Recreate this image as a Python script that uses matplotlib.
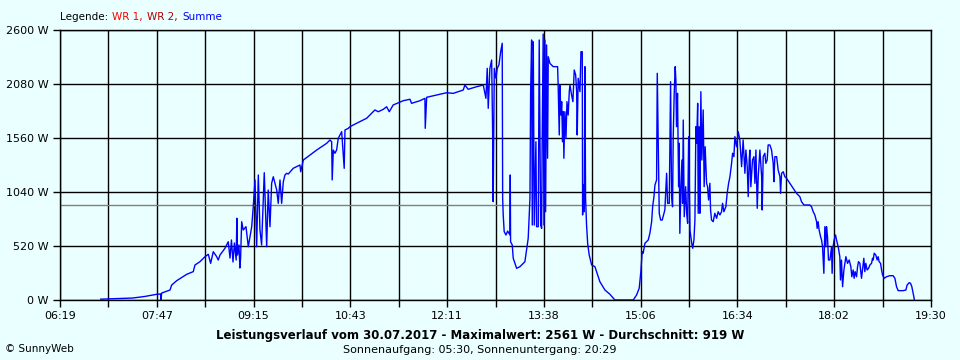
import matplotlib
matplotlib.use("Agg")
import matplotlib.pyplot as plt
import numpy as np

# time of day in minutes after midnight, power of "Summe" in W
minutes = [
    416, 433.5, 445, 456, 466.8, 470.3, 470.7, 471.3, 478.9, 480.4, 485, 494, 500, 501.6,
    506.1, 510.7, 513.7, 515.8, 518.2, 521.3, 522.7, 524.3, 528.8, 531.8, 533.4, 534.7,
    536.1, 537.4, 539, 539.6, 540.2, 541.5, 542.4, 543, 544, 545.4, 547.9, 550, 553.1,
    554.5, 556.1, 557.6, 559.1, 560.6, 562.1, 564.5, 566.7, 568.1, 569.7, 571.2, 572.7,
    574.2, 575.8, 577.2, 578.8, 580.3, 581.8, 583.3, 584.8, 586.3, 590.8, 596.9, 597.6,
    600, 606, 612.1, 621.2, 624.2, 625.7, 626.2, 627.2, 628.7, 630.2, 631.7, 634.8, 637.1,
    637.8, 640.8, 642.3, 648.4, 657.5, 665, 668, 672.6, 675.6, 678, 681.6, 690.7, 696.8,
    698.3, 705.9, 710.4, 710.7, 712, 721, 730.1, 736.1, 745.2, 746.7, 749.7, 757.4, 763.4,
    765.8, 767, 767.9, 769.4, 771, 771.9, 772.4, 773.4, 774.9, 776.1, 777.6, 779.2, 780.6,
    781, 781.5, 782.4, 784, 785.5, 787.6, 787.9, 788.2, 789.7, 790.6, 793.7, 796.7, 801.2,
    804.2, 805.8, 806.4, 807.3, 807.9, 808.8, 809.7, 811.2, 811.8, 813.3, 814.2, 815.5,
    816.4, 816.9, 817.8, 818.5, 819.4, 820, 820.9, 821.8, 822.4, 823.9, 826.9, 830.9,
    831.4, 832.4, 833, 833.9, 834.6, 835.4, 836, 836.6, 837.5, 838.5, 839.4, 840.5, 841.5,
    842.1, 843.6, 844.8, 846, 847.3, 848.2, 848.7, 849.6, 851.2, 852.1, 853.3, 853.6,
    854.5, 855.1, 855.7, 856.3, 857.2, 858.2, 859.6, 861.8, 864.8, 866.3, 869.3, 873.9,
    878.4, 882.9, 899.6, 902.6, 905, 906.5, 907.7, 908.6, 910.2, 913.2, 914.7, 916.3,
    917.2, 918.4, 919.3, 920.8, 921.4, 922, 923.2, 924.5, 925.9, 928.3, 929.9, 930.8,
    932.3, 933.5, 934.4, 935.3, 935.9, 936.8, 937.7, 938.3, 938.9, 939.8, 940.8, 941.3,
    941.9, 942.9, 943.8, 944.4, 945, 945.9, 947.2, 948.1, 949, 949.9, 951.1, 952.7, 953.6,
    954.7, 955.6, 956.5, 957.2, 958.1, 958.6, 959.5, 960.1, 961, 961.9, 963.1, 964, 964.9,
    966.2, 967.1, 968, 969.2, 969.8, 970.7, 972.2, 973.7, 975.3, 976.7, 978.3, 979.8,
    980.7, 981.9, 983.7, 984.9, 986.2, 987.4, 988.9, 989.8, 991, 991.9, 993.4, 994.9,
    996.4, 998, 999.4, 1001, 1001.9, 1003.1, 1004, 1004.9, 1005.5, 1006.4, 1007.9, 1009.2,
    1010.1, 1011, 1012.2, 1013.1, 1014.6, 1016.2, 1016.7, 1017.6, 1019.1, 1020, 1021.2,
    1022.1, 1023.7, 1025.2, 1026.7, 1027.3, 1028.2, 1029.8, 1031.2, 1032.8, 1033.4,
    1034.3, 1035.8, 1037.3, 1038.8, 1041.8, 1044.8, 1047.9, 1050.9, 1052.4, 1054.6, 1060,
    1061.5, 1063, 1064.5, 1066.1, 1066.6, 1067.5, 1068.4, 1069.7, 1070.6, 1071.5, 1072.1,
    1072.7, 1073.6, 1074.5, 1075.1, 1076, 1076.9, 1078.2, 1079.7, 1080.2, 1081.1, 1082,
    1083.3, 1084.2, 1085.7, 1087.2, 1087.8, 1088.7, 1089.7, 1090.9, 1092.7, 1094.2,
    1095.7, 1097.2, 1098.1, 1099.3, 1100.2, 1101.1, 1102.4, 1103.3, 1104.2, 1105.4,
    1106.9, 1107.8, 1109, 1109.9, 1110.8, 1112, 1113.3, 1114.5, 1116, 1116.9, 1117.5,
    1118.4, 1119.9, 1121.1, 1122, 1122.9, 1124.2, 1125.1, 1126, 1127.5, 1129.6, 1132.6,
    1135.6, 1137.2, 1138.7, 1140.2, 1144.7, 1147.2, 1148.3, 1150.2, 1151.4, 1152.6,
    1153.8, 1154.7, 1154.9,
]
watts = [
    8, 14, 19, 34, 55, 58, 0, 67, 96, 144, 186, 247, 273, 337,
    369, 417, 440, 353, 465, 417, 385, 433, 498, 561, 404, 578,
    366, 549, 385, 787, 433, 530, 308, 404, 754, 674, 706, 513, 706,
    898, 1156, 513, 1204, 674, 530, 1226, 513, 1059, 706, 1124, 1187,
    1124, 1059, 931, 1156, 931, 1139, 1204, 1220, 1213, 1268, 1300, 1235,
    1348, 1396, 1444, 1509, 1541, 1524, 1156, 1444, 1413, 1444, 1557, 1621, 1268,
    1637, 1653, 1669, 1702, 1750, 1830, 1813, 1836, 1861, 1813, 1878, 1919, 1933,
    1894, 1919, 1942, 1653, 1952, 1974, 1996, 1990, 2022, 2070, 2029, 2054, 2070,
    1942, 2231, 1846, 2231, 2311, 1621, 947, 2231, 2135, 2231, 2263, 2391, 2472,
    979, 819, 658, 626, 664, 626, 1204, 561, 530, 402, 305, 321, 369,
    594, 979, 2006, 2504, 722, 2487, 722, 1524, 706, 706, 2504, 722,
    690, 1524, 2561, 722, 2504, 850, 2456, 1365, 2343, 2279, 2247, 2247,
    2070, 1589, 2070, 1781, 1910, 1524, 1813, 1365, 1813, 1557, 1910, 1781, 2006,
    2070, 1974, 1910, 2215, 2167, 2006, 1589, 2135, 2006, 2391, 2391, 819,
    1107, 850, 2247, 979, 722, 546, 433, 337, 321, 273, 176, 96,
    55, 0, 0, 48, 113, 273, 465, 450, 546, 578, 642, 754,
    898, 995, 1107, 1156, 2183, 1733, 835, 770, 770, 867, 1220, 931,
    931, 2102, 995, 898, 1573, 1990, 2247, 2119, 1669, 1990, 1091, 1509,
    642, 1091, 1348, 931, 1733, 802, 1091, 835, 739, 1573, 674, 546, 498,
    578, 770, 1669, 1509, 1894, 835, 1669, 835, 2006, 1348, 1830, 1091, 1476,
    1124, 1091, 963, 1124, 867, 770, 754, 835, 787, 850, 819, 850,
    931, 850, 898, 1027, 1124, 1187, 1316, 1413, 1380, 1573, 1476, 1621,
    1541, 1284, 1541, 1220, 1444, 1284, 995, 1348, 1444, 1091, 1348, 1380,
    1124, 1444, 883, 1187, 1444, 1187, 867, 1380, 1413, 1316, 1348,
    1493, 1493, 1444, 1316, 1139, 1380, 1380, 1252, 1187, 1027,
    1220, 1235, 1187, 1172, 1124, 1076, 1027, 995, 947, 915, 915,
    898, 850, 819, 754, 690, 754, 674, 610, 578, 513, 385,
    257, 706, 513, 706, 610, 385, 385, 513, 257, 513, 578,
    626, 578, 513, 417, 193, 385, 128, 289, 417, 353,
    385, 321, 224, 289, 209, 273, 224, 321, 369, 353,
    209, 289, 402, 273, 353, 289, 305, 337, 353, 402, 385,
    450, 433, 385, 417, 369, 353, 289, 241, 209, 224, 234,
    234, 209, 128, 90, 90, 96, 144, 167, 161, 128,
    65, 16, 0,
]
average = 919

grid_times = np.linspace(379, 1170, 19)
x_labels = ["06:19", "", "07:47", "", "09:15", "", "10:43", "", "12:11", "",
            "13:38", "", "15:06", "", "16:34", "", "18:02", "", "19:30"]
y_ticks = [0, 520, 1040, 1560, 2080, 2600]

legend_parts = ["Legende: ", "WR 1, ", "WR 2, ", "Summe"]
legend_colors = ["black", "#FF0000", "#B00000", "#0000FF"]

bg = "#EAFFFF"
fig = plt.figure(figsize=(9.6, 3.6), dpi=100, facecolor=bg)
ax = fig.add_axes([60 / 960, 60 / 360, 871 / 960, 270 / 360])
ax.set_facecolor(bg)

ax.set_xlim(379, 1170)
ax.set_ylim(0, 2600)
ax.set_xticks(grid_times)
ax.set_xticklabels(x_labels)
ax.set_yticks(y_ticks)
ax.set_yticklabels([f"{v} W" for v in y_ticks])
ax.grid(True, color="black", linewidth=1.0)
ax.set_axisbelow(True)
ax.tick_params(axis="both", length=5, width=1, color="black", labelsize=8, pad=3)
for s in ax.spines.values():
    s.set_linewidth(1.0)
    s.set_color("black")

ax.axhline(average, color="#808080", linewidth=1.0, zorder=2)
ax.plot(minutes, watts, color="#0000FF", linewidth=1.0, zorder=3)

# legend line at top, pieces placed one after another
renderer = fig.canvas.get_renderer()
x0 = 60
for part, col in zip(legend_parts, legend_colors):
    t = fig.text(x0 / 960, 343 / 360, part, fontsize=7.5, color=col, va="center")
    x0 += t.get_window_extent(renderer).width + 1

fig.text(0.5, 24 / 360,
         "Leistungsverlauf vom 30.07.2017 - Maximalwert: 2561 W - Durchschnitt: 919 W",
         fontsize=8.5, fontweight="bold", ha="center", va="center")
fig.text(0.5, 10 / 360, "Sonnenaufgang: 05:30, Sonnenuntergang: 20:29",
         fontsize=8, ha="center", va="center")
fig.text(5 / 960, 11 / 360, "© SunnyWeb", fontsize=7.5, ha="left", va="center")

fig.savefig("out.png", dpi=100, facecolor=bg)
